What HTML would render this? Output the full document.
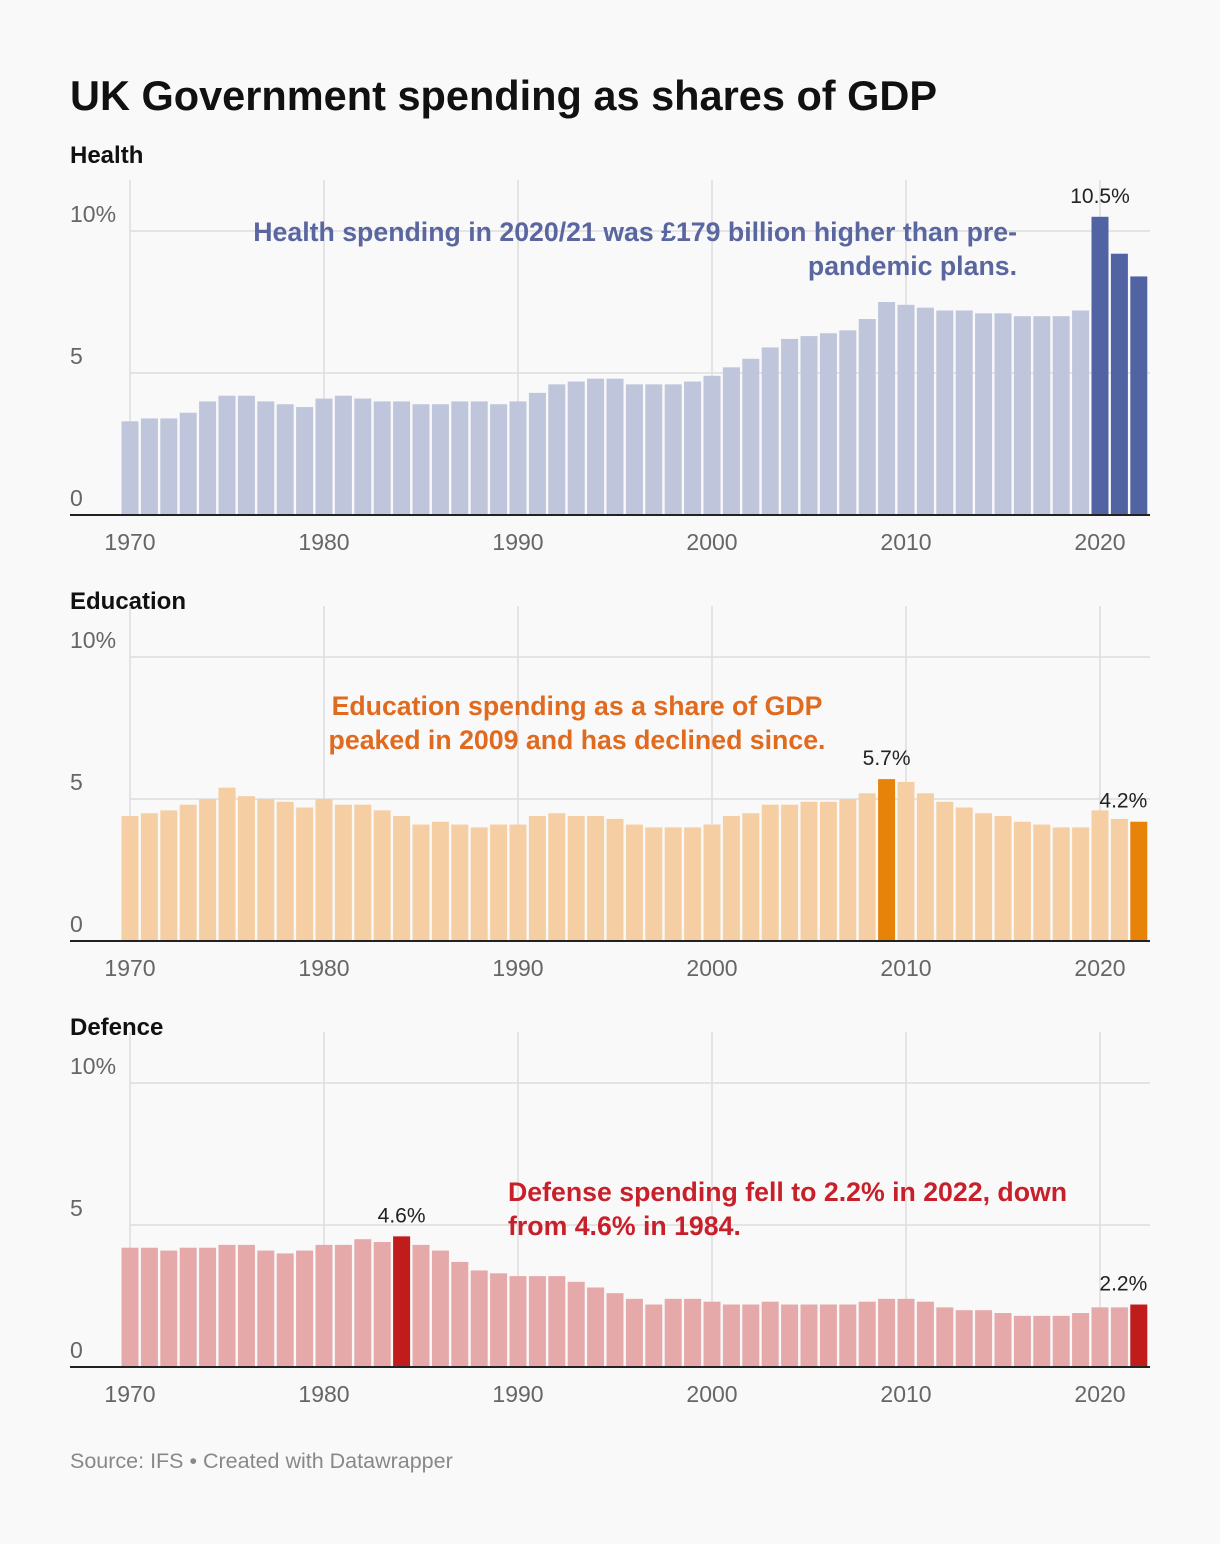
<!DOCTYPE html>
<html><head><meta charset="utf-8"><style>
html,body{margin:0;padding:0;background:#f9f9f9;}
svg{display:block;font-family:"Liberation Sans",sans-serif;}
</style></head><body>
<svg id="c" width="1220" height="1544" viewBox="0 0 1220 1544">
<rect width="1220" height="1544" fill="#f9f9f9"/>
<text x="70" y="110" font-size="41.5" font-weight="bold" fill="#111">UK Government spending as shares of GDP</text>
<text x="70" y="1468" font-size="21.5" fill="#888">Source: IFS • Created with Datawrapper</text>
</svg>
<script>
const years=[];for(let y=1970;y<=2022;y++)years.push(y);
const xTicks=[1970,1980,1990,2000,2010,2020];
const yTicks=[0,5,10];
const health=[3.3,3.4,3.4,3.6,4.0,4.2,4.2,4.0,3.9,3.8,4.1,4.2,4.1,4.0,4.0,3.9,3.9,4.0,4.0,3.9,4.0,4.3,4.6,4.7,4.8,4.8,4.6,4.6,4.6,4.7,4.9,5.2,5.5,5.9,6.2,6.3,6.4,6.5,6.9,7.5,7.4,7.3,7.2,7.2,7.1,7.1,7.0,7.0,7.0,7.2,10.5,9.2,8.4];
const education=[4.4,4.5,4.6,4.8,5.0,5.4,5.1,5.0,4.9,4.7,5.0,4.8,4.8,4.6,4.4,4.1,4.2,4.1,4.0,4.1,4.1,4.4,4.5,4.4,4.4,4.3,4.1,4.0,4.0,4.0,4.1,4.4,4.5,4.8,4.8,4.9,4.9,5.0,5.2,5.7,5.6,5.2,4.9,4.7,4.5,4.4,4.2,4.1,4.0,4.0,4.6,4.3,4.2];
const defence=[4.2,4.2,4.1,4.2,4.2,4.3,4.3,4.1,4.0,4.1,4.3,4.3,4.5,4.4,4.6,4.3,4.1,3.7,3.4,3.3,3.2,3.2,3.2,3.0,2.8,2.6,2.4,2.2,2.4,2.4,2.3,2.2,2.2,2.3,2.2,2.2,2.2,2.2,2.3,2.4,2.4,2.3,2.1,2.0,2.0,1.9,1.8,1.8,1.8,1.9,2.1,2.1,2.2];
const healthHi=[2020,2021,2022], eduHi=[2009,2022], defHi=[1984,2022];
const healthLabels=[[2020,"10.5%"]], eduLabels=[[2009,"5.7%"],[2022,"4.2%"]], defLabels=[[1984,"4.6%"],[2022,"2.2%"]];

const svg=document.getElementById('c');const NS='http://www.w3.org/2000/svg';
function mk(t,a,p){const e=document.createElementNS(NS,t);for(const k in a)e.setAttribute(k,a[k]);(p||svg).appendChild(e);return e;}
const xS=y=>130+(y-1970)*19.4;
function panel(name,title,titleY,base,vals,hi,labels,light,dark,note,noteX,noteY,noteAnchor,noteColor){
  const yS=v=>base-v*28.4;
  const g=mk('g',{});
  
  
  const t=mk('text',{x:70,y:titleY,'font-size':24,'font-weight':'bold',fill:'#111'},g);t.textContent=title;
  
  
  xTicks.forEach(x=>{const l=mk('line',{x1:xS(x),x2:xS(x),y1:base-335,y2:base,stroke:'#ddd','stroke-width':1.5},g);
    
    
    const tl=mk('text',{x:xS(x),y:base+35,'font-size':23,fill:'#666','text-anchor':'middle'},g);tl.textContent=x;
    
    });
  yTicks.forEach(v=>{if(v>0){const l=mk('line',{x1:130,x2:1150,y1:yS(v),y2:yS(v),stroke:'#ddd','stroke-width':1.5},g);
    
    }
    const tl=mk('text',{x:70,y:yS(v)-9,'font-size':23,fill:'#666'},g);tl.textContent=v===10?'10%':v;
    
    });
  vals.forEach((v,i)=>{const y=years[i];const r=mk('rect',{x:xS(y)-8.5,y:yS(v),width:17,height:v*28.4,fill:hi.includes(y)?dark:light},g);
    
    });
  const ax=mk('line',{x1:70,x2:1150,y1:base,y2:base,stroke:'#222','stroke-width':2},g);
  
  
  labels.forEach(([y,s])=>{const v=vals[years.indexOf(y)];const last=y===2022;
    const tl=mk('text',{x:last?xS(y)+8.5:xS(y),y:yS(v)-14,'font-size':21,fill:'#222','text-anchor':last?'end':'middle'},g);tl.textContent=s;
    
    });
  note.forEach((ln,i)=>{const tl=mk('text',{x:noteX,y:noteY+i*34,'font-size':26.7,'font-weight':'bold',fill:noteColor,'text-anchor':noteAnchor},g);tl.textContent=ln;
    
    });
}
panel('health','Health',163,515,health,healthHi,healthLabels,'#bfc5da','#5163a3',['Health spending in 2020/21 was £179 billion higher than pre-','pandemic plans.'],1017,241,'end','#5a66a0');
panel('education','Education',609,941,education,eduHi,eduLabels,'#f5cfa3','#e8830a',['Education spending as a share of GDP','peaked in 2009 and has declined since.'],577,715,'middle','#e06a1e');
panel('defence','Defence',1035,1367,defence,defHi,defLabels,'#e5a9a9','#c01c1c',['Defense spending fell to 2.2% in 2022, down','from 4.6% in 1984.'],508,1201,'start','#c8202a');
</script>
</body></html>
